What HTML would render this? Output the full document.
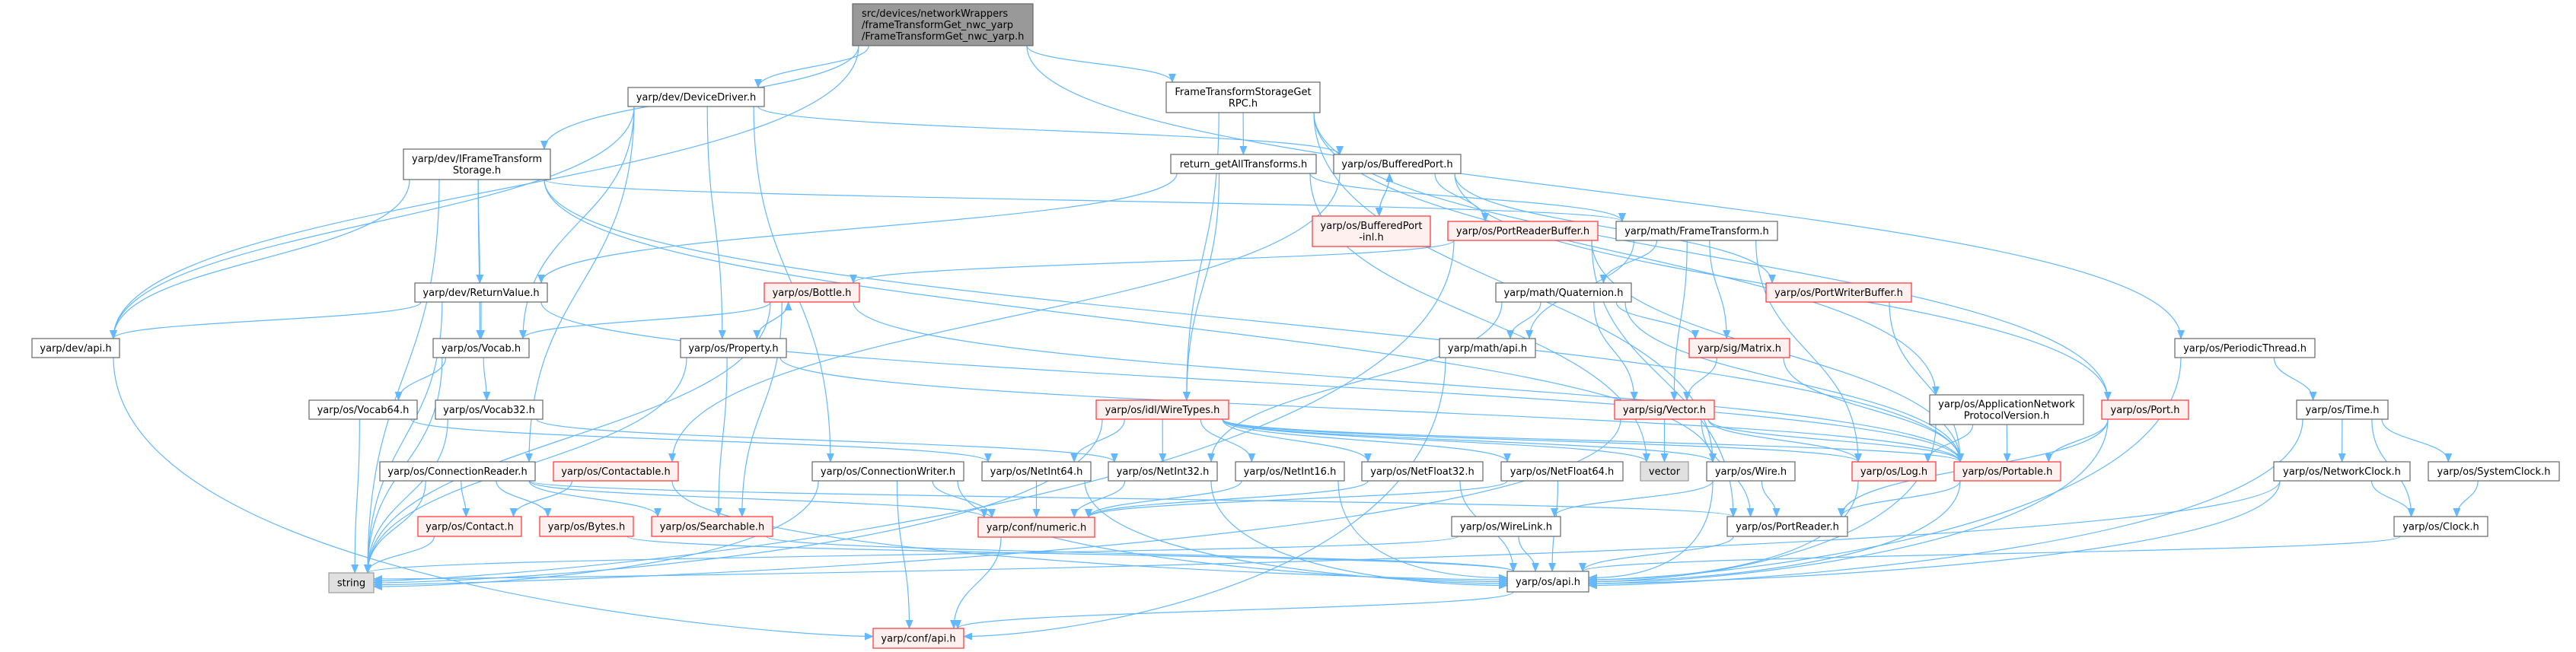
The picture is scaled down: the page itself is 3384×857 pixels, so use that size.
<!DOCTYPE html>
<html><head><meta charset="utf-8"><style>
html,body{margin:0;padding:0;background:#fff;}
svg{display:block;}
text{font-family:"DejaVu Sans","Liberation Sans",sans-serif;font-size:13px;fill:#000;}
</style></head><body>
<svg id="g" xmlns="http://www.w3.org/2000/svg" width="3384" height="857" viewBox="0 0 3384 857">
<defs><marker id="a" markerWidth="12" markerHeight="10" refX="11" refY="5" orient="auto" markerUnits="userSpaceOnUse"><path d="M0,0 L12,5 L0,10 z" fill="#63b8ff"/></marker></defs>
<g id="edges" fill="none" stroke="#63b8ff" stroke-width="1.2"></g>
<g id="nodes"></g>
</svg>
<script>
var N={
root:[1120,1357,5,60,"src/devices/networkWrappers|/frameTransformGet_nwc_yarp|/FrameTransformGet_nwc_yarp.h","root"],
DD:[825,1004,115,140,"yarp/dev/DeviceDriver.h"],
IFTS:[530,723,196,236,"yarp/dev/IFrameTransform|Storage.h"],
FTSGR:[1532,1734,108,148,"FrameTransformStorageGet|RPC.h"],
RGAT:[1538,1729,203,228,"return_getAllTransforms.h"],
BP:[1752,1919,203,228,"yarp/os/BufferedPort.h"],
BPI:[1724,1879,284,324,"yarp/os/BufferedPort|-inl.h","red"],
PRB:[1902,2099,291,316,"yarp/os/PortReaderBuffer.h","red"],
FT:[2123,2335,291,316,"yarp/math/FrameTransform.h"],
PWB:[2320,2511,372,397,"yarp/os/PortWriterBuffer.h","red"],
PT:[2857,3041,445,470,"yarp/os/PeriodicThread.h"],
RV:[545,719,372,397,"yarp/dev/ReturnValue.h"],
Bottle:[1004,1129,372,397,"yarp/os/Bottle.h","red"],
Quat:[1965,2143,372,397,"yarp/math/Quaternion.h"],
devapi:[42,157,445,470,"yarp/dev/api.h"],
Vocab:[569,695,445,470,"yarp/os/Vocab.h"],
Prop:[894,1033,445,470,"yarp/os/Property.h"],
mathapi:[1891,2017,445,470,"yarp/math/api.h"],
Matrix:[2219,2351,445,470,"yarp/sig/Matrix.h","red"],
V64:[406,548,526,551,"yarp/os/Vocab64.h"],
V32:[572,713,526,551,"yarp/os/Vocab32.h"],
WT:[1440,1614,526,551,"yarp/os/idl/WireTypes.h","red"],
Vector:[2121,2252,526,551,"yarp/sig/Vector.h","red"],
ANPV:[2535,2737,519,558,"yarp/os/ApplicationNetwork|ProtocolVersion.h"],
Port:[2761,2875,526,551,"yarp/os/Port.h","red"],
Time:[3017,3137,526,551,"yarp/os/Time.h"],
CR:[499,703,607,632,"yarp/os/ConnectionReader.h"],
Contactable:[727,891,607,632,"yarp/os/Contactable.h","red"],
CW:[1067,1266,607,632,"yarp/os/ConnectionWriter.h"],
NI64:[1290,1433,607,632,"yarp/os/NetInt64.h"],
NI32:[1456,1599,607,632,"yarp/os/NetInt32.h"],
NI16:[1623,1766,607,632,"yarp/os/NetInt16.h"],
NF32:[1789,1948,607,632,"yarp/os/NetFloat32.h"],
NF64:[1972,2132,607,632,"yarp/os/NetFloat64.h"],
vector:[2155,2218,607,632,"vector","gray"],
Wire:[2242,2358,607,632,"yarp/os/Wire.h"],
Log:[2433,2543,607,632,"yarp/os/Log.h","red"],
Portable:[2567,2707,607,632,"yarp/os/Portable.h","red"],
NC:[2987,3166,607,632,"yarp/os/NetworkClock.h"],
SC:[3190,3362,607,632,"yarp/os/SystemClock.h"],
Contact:[549,685,679,705,"yarp/os/Contact.h","red"],
Bytes:[709,832,679,705,"yarp/os/Bytes.h","red"],
Search:[856,1015,679,705,"yarp/os/Searchable.h","red"],
numeric:[1285,1438,680,706,"yarp/conf/numeric.h","red"],
WireLink:[1907,2050,679,705,"yarp/os/WireLink.h"],
PR:[2269,2427,679,705,"yarp/os/PortReader.h"],
Clock:[3145,3268,679,705,"yarp/os/Clock.h"],
string:[432,491,753,779,"string","gray"],
osapi:[1980,2087,751,778,"yarp/os/api.h"],
confapi:[1147,1266,826,852,"yarp/conf/api.h","red"]
};
var E="root>IFTS root>DD root>FTSGR root>PT root>devapi "+
"DD>devapi DD>Prop DD>CR DD>CW DD>BP DD>Vocab "+
"IFTS>devapi IFTS>string IFTS>RV IFTS>Vocab IFTS>FT IFTS>Portable IFTS>Wire "+
"FTSGR>RGAT FTSGR>WT FTSGR>ANPV FTSGR>Port FTSGR>Wire "+
"RGAT>WT RGAT>RV RGAT>vector RGAT>FT "+
"BP>BPI BPI>BP BP>PRB BP>PWB BP>Contactable BP>Port "+
"PRB>Bottle PRB>PR PRB>string PRB>Portable "+
"FT>Quat FT>Vector FT>Matrix FT>mathapi FT>Log "+
"PWB>Portable PT>Time PT>osapi "+
"RV>Vocab RV>devapi RV>string RV>Portable "+
"Bottle>Prop Prop>Bottle Bottle>Vocab Bottle>Search Bottle>string Bottle>Portable "+
"Quat>mathapi Quat>Vector Quat>Matrix Quat>Portable Quat>NI32 "+
"devapi>confapi Vocab>V64 Vocab>V32 Vocab>string "+
"Prop>Search Prop>string Prop>Portable mathapi>confapi Matrix>Vector Matrix>Portable "+
"V64>string V64>NI64 V32>string V32>NI32 "+
"WT>NI64 WT>NI32 WT>NI16 WT>NF32 WT>NF64 WT>vector WT>string WT>Log WT>Portable WT>Wire "+
"Vector>vector Vector>Log Vector>Portable Vector>PR Vector>string "+
"ANPV>Log ANPV>Portable ANPV>osapi Port>Portable Port>osapi Port>PR "+
"Time>NC Time>SC Time>Clock Time>osapi "+
"CR>Contact CR>Bytes CR>Search CR>string CR>PR CR>numeric "+
"Contactable>Contact Contactable>osapi CW>numeric CW>confapi CW>string CW>osapi "+
"NI64>numeric NI32>numeric NI16>numeric NF32>numeric NF64>numeric NI64>osapi NI32>osapi NI16>osapi NF32>osapi NF64>osapi "+
"Wire>PR Wire>WireLink Wire>osapi Log>osapi Portable>PR Portable>osapi "+
"NC>Clock NC>osapi NC>string SC>Clock Clock>osapi "+
"Contact>string Bytes>osapi Search>osapi numeric>confapi WireLink>osapi WireLink>string PR>osapi osapi>confapi";
var ns="http://www.w3.org/2000/svg",eg=document.getElementById("edges"),ng=document.getElementById("nodes");
function cl(v,a,b){return Math.max(a,Math.min(b,v));}
var sideCount={};
var sideT={string:1,osapi:1,confapi:1};
E.split(" ").forEach(function(e){
 var p=e.split(">"),s=N[p[0]],t=N[p[1]];if(!s||!t)return;
 var scx=(s[0]+s[1])/2,tcx=(t[0]+t[1])/2,d;
 var sw=(s[1]-s[0])/2-8,tw=(t[1]-t[0])/2-8;
 if(t[2]>=s[3]){
  var sx=scx+cl((tcx-scx)*0.3,-sw,sw),sy=s[3];
  var dx=tcx-scx,dyy=t[2]-sy;
  if(sideT[p[1]] && dyy>60 && Math.abs(dx)>250 && Math.abs(dx)>2*dyy){
   var key=p[1]+(dx>0?"L":"R");sideCount[key]=(sideCount[key]||0)+1;
   var off=((sideCount[key]%5)-2)*2.5;
   var tx=dx>0?t[0]:t[1],ty=(t[2]+t[3])/2+off;
   var pull=Math.min(Math.abs(dx)*0.3,140);
   d="M"+sx+","+sy+" C"+sx+","+(sy+(ty-sy)*0.8)+" "+(tx-(dx>0?1:-1)*pull)+","+ty+" "+tx+","+ty;
  } else {
   var tx=tcx+cl((scx-tcx)*0.3,-tw,tw),ty=t[2];
   var dy=ty-sy;
   d="M"+sx+","+sy+" C"+sx+","+(sy+dy*0.5)+" "+tx+","+(ty-dy*0.5)+" "+tx+","+ty;
  }
 } else {
  var sx=scx+cl((tcx-scx)*0.3,-sw,sw),sy=s[2];
  var tx=tcx+cl((scx-tcx)*0.3,-tw,tw),ty=t[3];
  var dy=sy-ty;if(dy<20)dy=20;
  d="M"+sx+","+sy+" C"+sx+","+(sy-dy*0.5)+" "+tx+","+(ty+dy*0.5)+" "+tx+","+ty;
 }
 var pa=document.createElementNS(ns,"path");pa.setAttribute("d",d);pa.setAttribute("marker-end","url(#a)");eg.appendChild(pa);
});
for(var k in N){var n=N[k],r=document.createElementNS(ns,"rect");
 r.setAttribute("x",n[0]);r.setAttribute("y",n[2]);r.setAttribute("width",n[1]-n[0]);r.setAttribute("height",n[3]-n[2]);
 var fill="#fff",st="#666";
 if(n[5]=="red"){fill="#fff0f0";st="#ff3030";} else if(n[5]=="gray"){fill="#e0e0e0";st="#999";} else if(n[5]=="root"){fill="#999";st="#666";}
 r.setAttribute("fill",fill);r.setAttribute("stroke",st);r.setAttribute("stroke-width","1.2");ng.appendChild(r);
 var lines=n[4].split("|"),cx=(n[0]+n[1])/2,cy=(n[2]+n[3])/2,lh=15;
 lines.forEach(function(L,i){var t=document.createElementNS(ns,"text");
  if(n[5]=="root"){t.setAttribute("x",n[0]+12);t.setAttribute("text-anchor","start");}
  else{t.setAttribute("x",cx);t.setAttribute("text-anchor","middle");}
  t.setAttribute("y",cy+(i-(lines.length-1)/2)*lh+4.5);
  t.textContent=L;ng.appendChild(t);});
}
</script>
</body></html>
